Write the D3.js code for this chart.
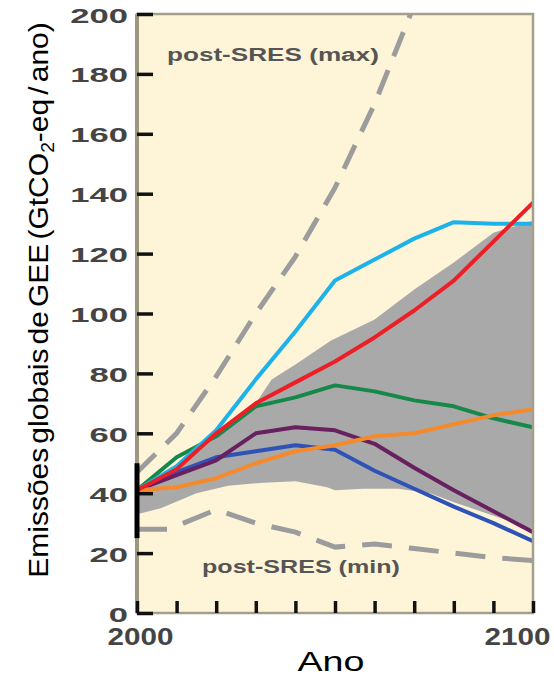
<!DOCTYPE html>
<html>
<head>
<meta charset="utf-8">
<script src="https://cdn.jsdelivr.net/npm/d3@7"></script>
<style>
  html, body { margin: 0; padding: 0; background: #ffffff; }
  svg { display: block; }
</style>
</head>
<body>
<svg id="chart" width="554" height="678"></svg>
<script>
// Emission pathways, GtCO2-eq per year
const years = [2000, 2010, 2020, 2030, 2040, 2050, 2060, 2070, 2080, 2090, 2100];
const cyanValues   = [41, 49, 61, 78, 94, 111, 118, 125, 130.5, 130, 130];
const redValues    = [41, 48, 60, 70, 77, 84, 92, 101, 111, 124, 137];
const greenValues  = [41, 52, 59, 69, 72, 76, 74, 71, 69, 65, 62];
const purpleValues = [41, 46, 51, 60, 62, 61, 56.5, 48.5, 41, 34, 27];
const blueValues   = [41, 47, 52, 54, 56, 54.5, 47.5, 41.5, 35.5, 30, 24];
const orangeValues = [41, 42, 45, 50, 54, 56, 59, 60, 63, 66, 68];

// Shaded range of scenarios
const bandUpperYears = [2000, 2010, 2020, 2030, 2034, 2040, 2049, 2060, 2070, 2080, 2090, 2100];
const bandUpper      = [41, 48, 60, 70, 78, 83, 91, 98, 108, 117, 127, 131];
const bandLowerYears = [2000, 2006, 2015, 2023, 2032, 2040, 2048, 2050, 2057, 2066, 2074, 2080, 2090, 2100];
const bandLower      = [33, 35, 40, 42.5, 43.5, 44, 42, 41, 41.5, 41.5, 40, 37, 32.5, 28];

// post-SRES envelope
const maxYears  = [2000, 2010, 2020, 2030, 2040, 2050, 2060, 2070];
const maxValues = [47, 60, 79, 100, 119, 142, 170, 203];
const minYears  = [2000, 2008, 2020, 2030, 2040, 2050, 2060, 2070, 2080, 2090, 2100];
const minValues = [28, 28, 34.5, 30, 27, 22, 23, 21.5, 20, 18.5, 17.5];

// Range of emissions in 2000
const range2000 = [25, 50];

const yTicks = [0, 20, 40, 60, 80, 100, 120, 140, 160, 180, 200];
const xTicks = [2000, 2010, 2020, 2030, 2040, 2050, 2060, 2070, 2080, 2090, 2100];
const xTickLabels = ["2000", "2100"];

const labelMax = "post-SRES (max)";
const labelMin = "post-SRES (min)";
const xTitle = "Ano";

const svg = d3.select("#chart");
const L = 137, R = 533, T = 14, B = 613;
const x = d3.scaleLinear().domain([2000, 2100]).range([L, R]);
const y = d3.scaleLinear().domain([0, 200]).range([B, T]);

// stretch a text horizontally to a given width, keeping its anchor
function fit(sel, px, py, width, rot) {
  const n = sel.node().getComputedTextLength();
  const s = width / n;
  sel.attr("x", 0).attr("y", 0)
     .attr("transform", `translate(${px},${py})` + (rot ? ` rotate(${rot})` : "") + ` scale(${s},1)`);
}

svg.append("defs").append("clipPath").attr("id", "plot")
  .append("rect").attr("x", L).attr("y", T).attr("width", R - L).attr("height", B - T);

// plot background
svg.append("rect").attr("x", L).attr("y", T).attr("width", R - L).attr("height", B - T)
  .attr("fill", "#fef5d9");

const g = svg.append("g").attr("clip-path", "url(#plot)");

// scenario band
const upperPts = bandUpperYears.map((yr, i) => [x(yr), y(bandUpper[i])]);
const lowerPts = bandLowerYears.map((yr, i) => [x(yr), y(bandLower[i])]).reverse();
g.append("path")
  .attr("d", d3.line()(upperPts.concat(lowerPts)) + "Z")
  .attr("fill", "#a9a9a9");

// dashed envelope
const dashed = (ys, vs) => d3.line()(ys.map((yr, i) => [x(yr), y(vs[i])]));
g.append("path").attr("d", dashed(maxYears, maxValues))
  .attr("fill", "none").attr("stroke", "#9c9c9c").attr("stroke-width", 5)
  .attr("stroke-dasharray", "26,15");
g.append("path").attr("d", dashed(minYears, minValues))
  .attr("fill", "none").attr("stroke", "#9c9c9c").attr("stroke-width", 5)
  .attr("stroke-dasharray", "30,17");

// scenario lines
const line = d3.line().x((d, i) => x(years[i])).y(d => y(d));
const series = [
  { v: blueValues,   c: "#2f52b6" },
  { v: purpleValues, c: "#682060" },
  { v: greenValues,  c: "#16894a" },
  { v: cyanValues,   c: "#1db3ea" },
  { v: orangeValues, c: "#f48a2c" },
  { v: redValues,    c: "#ec1f26" }
];
series.forEach(s => {
  g.append("path").attr("d", line(s.v))
    .attr("fill", "none").attr("stroke", s.c).attr("stroke-width", 4)
    .attr("stroke-linejoin", "round");
});

// frame
svg.append("rect").attr("x", L).attr("y", T).attr("width", R - L).attr("height", B - T)
  .attr("fill", "none").attr("stroke", "#a59e8a").attr("stroke-width", 2.5);
svg.append("line").attr("x1", L).attr("x2", L).attr("y1", T).attr("y2", B)
  .attr("stroke", "#9e967e").attr("stroke-width", 4);

// y axis
const yAxis = svg.append("g").attr("transform", `translate(${L},0)`)
  .call(d3.axisLeft(y).tickValues(yTicks).tickSizeInner(-16).tickSizeOuter(0).tickPadding(9));
yAxis.select(".domain").remove();
yAxis.selectAll(".tick line").attr("stroke", "#111").attr("stroke-width", 3.5);
yAxis.selectAll(".tick text")
  .attr("font-family", "'Liberation Sans', Arial, sans-serif")
  .attr("font-weight", "bold").attr("font-size", 20).attr("fill", "#444")
  .attr("dy", null).attr("dominant-baseline", "central")
  .attr("x", 0).attr("y", 1).attr("transform", "translate(-9,0) scale(1.73,1)");

// x axis
const xAxis = svg.append("g").attr("transform", `translate(0,${B})`)
  .call(d3.axisBottom(x).tickValues(xTicks).tickSizeInner(-12).tickSizeOuter(0)
    .tickFormat(d => xTickLabels.includes(String(d)) ? String(d) : ""));
xAxis.select(".domain").remove();
xAxis.selectAll(".tick line").attr("stroke", "#111").attr("stroke-width", 3.5);
xAxis.selectAll(".tick text")
  .attr("font-family", "'Liberation Sans', Arial, sans-serif")
  .attr("font-weight", "bold").attr("font-size", 23).attr("fill", "#444")
  .attr("dy", null)
  .each(function (d) {
    if (!this.textContent) return;
    const shift = d === 2100 ? -16 : 3;
    fit(d3.select(this), shift, 32, 66);
  });

// 2000 range bar
svg.append("line")
  .attr("x1", x(2000)).attr("x2", x(2000))
  .attr("y1", y(range2000[0])).attr("y2", y(range2000[1]))
  .attr("stroke", "#000").attr("stroke-width", 5);

// envelope labels
const lblFont = "'Liberation Sans', Arial, sans-serif";
fit(svg.append("text").text(labelMax).attr("font-family", lblFont).attr("font-weight", "bold")
  .attr("font-size", 18).attr("fill", "#555"), 167, 61, 212);
fit(svg.append("text").text(labelMin).attr("font-family", lblFont).attr("font-weight", "bold")
  .attr("font-size", 18).attr("fill", "#555"), 202, 573, 198);

// axis titles
fit(svg.append("text").text(xTitle).attr("font-family", lblFont).attr("font-size", 28)
  .attr("text-anchor", "middle").attr("fill", "#000"), 331, 671, 67);

const yt = svg.append("text").attr("font-family", lblFont).attr("font-size", 28)
  .attr("text-anchor", "middle").attr("fill", "#000").attr("word-spacing", -4);
yt.append("tspan").text("Emissões globais de GEE (GtCO");
yt.append("tspan").text("2").attr("font-size", 18).attr("dy", 6);
yt.append("tspan").text("-eq / ano)").attr("dy", -6);
fit(yt, 48, 300, 556, -90);
</script>
</body>
</html>
